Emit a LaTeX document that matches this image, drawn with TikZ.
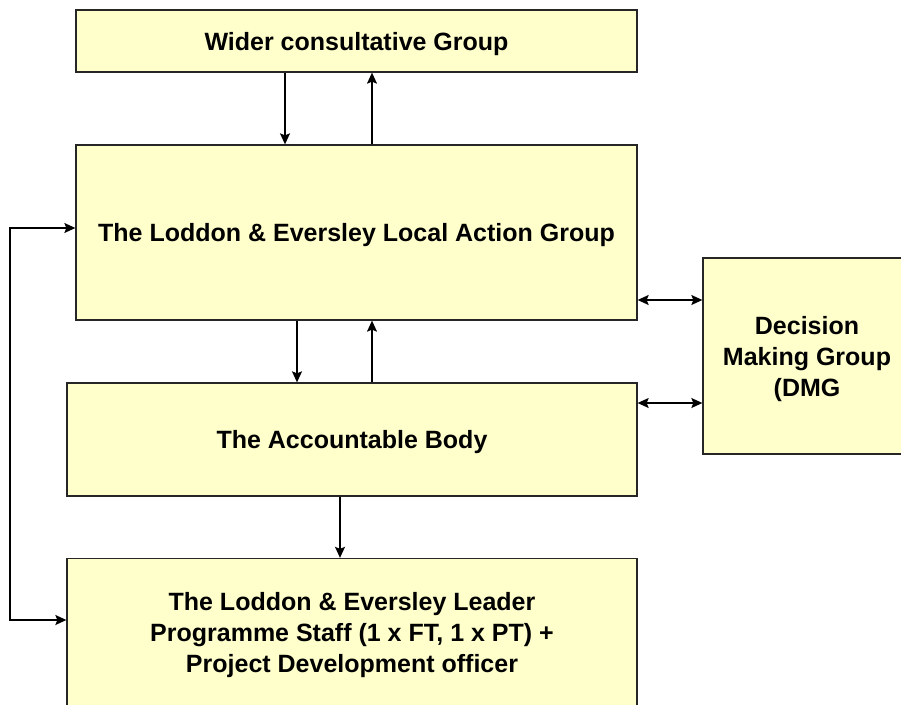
\documentclass[tikz,border=0pt]{standalone}
\usepackage{fontspec}
\setmainfont{Liberation Sans}
\usetikzlibrary{arrows, arrows.meta, positioning}
\definecolor{boxfill}{HTML}{FFFFCC}

\begin{document}
\begin{tikzpicture}[x=1pt, y=-1pt]
    \tikzstyle{group} = [rectangle, draw=black!85, line width=1.3pt, fill=boxfill, text centered, align=center, inner sep=0pt, text depth=0pt, font=\fontsize{25}{31}\selectfont\bfseries]
    \tikzstyle{arrow} = [line width=1.3pt, ->, >={Stealth[length=11pt, width=10pt, inset=2pt]}]
    \useasboundingbox (0,0) rectangle (901,704);

    \node[group, minimum width=561pt, minimum height=62pt] (wider) at (356.5,41) {Wider consultative Group};
    \node[group, minimum width=561pt, minimum height=175pt] (lag) at (356.5,232.5) {The Loddon \& Eversley Local Action Group};
    \node[group, minimum width=570pt, minimum height=113pt] (body) at (352,439.5) {The Accountable Body};
    \node[group, minimum width=570pt, minimum height=147pt] (staff) at (352,632) {The Loddon \& Eversley Leader\\Programme Staff (1 x FT, 1 x PT) +\\Project Development officer};
    \node[group, minimum width=208pt, minimum height=196pt] (dmg) at (807,356) {Decision\\Making Group\\(DMG};
    \coordinate (bend) at (10,228);

    \draw[arrow] (wider.south -| 285,0) -- (lag.north -| 285,0);
    \draw[arrow] (lag.north -| 372,0) -- (wider.south -| 372,0);
    \draw[arrow] (lag.south -| 297,0) -- (body.north -| 297,0);
    \draw[arrow] (body.north -| 372,0) -- (lag.south -| 372,0);
    \draw[arrow] (body.south -| 340,0) -- (staff.north -| 340,0);
    \draw[arrow, <->] (lag.east |- 0,300) -- (dmg.west |- 0,300);
    \draw[arrow, <->] (body.east |- 0,403) -- (dmg.west |- 0,403);
    \draw[arrow, <->] (lag.west |- bend) -- (bend) |- (staff.west |- 0,620);
\end{tikzpicture}
\end{document}
